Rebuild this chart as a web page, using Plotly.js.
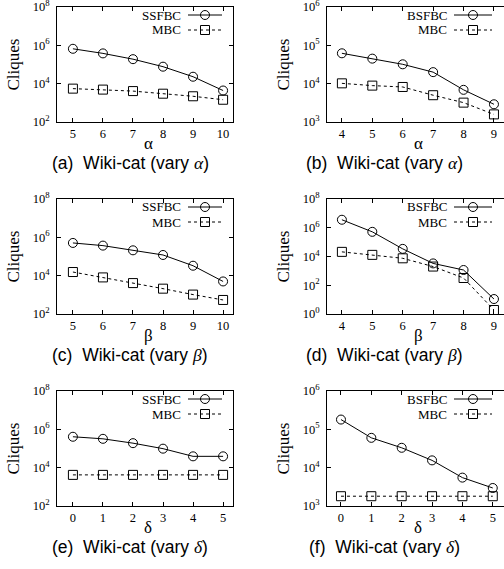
<!DOCTYPE html>
<html>
<head>
<meta charset="utf-8">
<script src="https://cdn.plot.ly/plotly-3.0.1.min.js"></script>
<style>
html, body { margin:0; padding:0; overflow:hidden; background:#fff; }
#chart { width:504px; height:569px; }
</style>
</head>
<body>
<div id="chart"></div>
<script>
// ---- data ----
const alphaA = [5, 6, 7, 8, 9, 10];
const ssfbcA = [6.6e5, 3.8e5, 1.9e5, 7.7e4, 2.3e4, 4.4e3];
const mbcA   = [5.5e3, 4.9e3, 4.1e3, 3.0e3, 2.2e3, 1.45e3];

const alphaB = [4, 5, 6, 7, 8, 9];
const bsfbcB = [6.2e4, 4.5e4, 3.2e4, 2.0e4, 6.9e3, 2.9e3];
const mbcB   = [1.02e4, 8.9e3, 8.2e3, 5.0e3, 3.2e3, 1.58e3];

const betaC  = [5, 6, 7, 8, 9, 10];
const ssfbcC = [5.1e5, 3.7e5, 2.1e5, 1.2e5, 3.3e4, 5.0e3];
const mbcC   = [1.55e4, 8.1e3, 4.1e3, 2.1e3, 1.03e3, 5.4e2];

const betaD  = [4, 5, 6, 7, 8, 9];
const bsfbcD = [3.6e6, 5.2e5, 3.4e4, 3.3e3, 1.15e3, 11];
const mbcD   = [2.1e4, 1.3e4, 7.5e3, 2.0e3, 3.2e2, 1.9];

const deltaE = [0, 1, 2, 3, 4, 5];
const ssfbcE = [4.1e5, 3.2e5, 1.9e5, 9.8e4, 3.9e4, 3.9e4];
const mbcE   = [4.2e3, 4.2e3, 4.2e3, 4.2e3, 4.2e3, 4.2e3];

const deltaF = [0, 1, 2, 3, 4, 5];
const bsfbcF = [1.8e5, 6.0e4, 3.3e4, 1.55e4, 5.5e3, 2.95e3];
const mbcF   = [1.8e3, 1.8e3, 1.8e3, 1.8e3, 1.8e3, 1.8e3];

const captions = ["(a)", "(b)", "(c)", "(d)", "(e)", "(f)"];
const xTitles  = ["α", "α", "β", "β", "δ", "δ"];
const xMath    = ["α", "α", "β", "β", "δ", "δ"];
const ourNames = ["SSFBC", "BSFBC", "SSFBC", "BSFBC", "SSFBC", "BSFBC"];
const baseName = "MBC";
const yExpA = [2, 4, 6, 8];
const yExpB = [3, 4, 5, 6];
const yExpD = [0, 2, 4, 6, 8];

// ---- geometry / styles ----
const W = 504, H = 569;
const px = x => x / W;
const py = y => 1 - y / H;
const serif = "Liberation Serif, Times New Roman, serif";
const sans = "Liberation Sans, Arial, sans-serif";

const panels = [
  {x: alphaA, s: ssfbcA, m: mbcA, xr: [4.47, 10.33], ye: yExpA, col: 0, row: 0},
  {x: alphaB, s: bsfbcB, m: mbcB, xr: [3.51, 9.33],  ye: yExpB, col: 1, row: 0},
  {x: betaC,  s: ssfbcC, m: mbcC, xr: [4.47, 10.33], ye: yExpA, col: 0, row: 1},
  {x: betaD,  s: bsfbcD, m: mbcD, xr: [3.51, 9.33],  ye: yExpD, col: 1, row: 1},
  {x: deltaE, s: ssfbcE, m: mbcE, xr: [-0.53, 5.33], ye: yExpA, col: 0, row: 2},
  {x: deltaF, s: bsfbcF, m: mbcF, xr: [-0.46, 5.37], ye: yExpB, col: 1, row: 2}
];
const colL = [57, 327], colR = [233, 504];
const rowT = [7, 199, 391], rowB = [122, 314, 506];
const capX = [130, 384];

const traces = [];
const layout = {
  width: W, height: H,
  margin: {l: 0, r: 0, t: 0, b: 0},
  paper_bgcolor: "#fff", plot_bgcolor: "#fff",
  showlegend: false,
  font: {family: serif, color: "#000", size: 12},
  annotations: [], shapes: []
};

panels.forEach((p, i) => {
  const k = i === 0 ? "" : String(i + 1);
  const L = colL[p.col], R = colR[p.col], T = rowT[p.row], B = rowB[p.row];
  const common = {
    showline: true, linecolor: "#000", linewidth: 1,
    ticks: "inside", ticklen: 4, tickcolor: "#000", tickwidth: 1,
    showgrid: false, zeroline: false, fixedrange: true,
    ticklabeloverflow: "allow",
    tickfont: {family: serif, size: 12.5, color: "#000"}
  };
  layout["xaxis" + k] = Object.assign({}, common, {
    domain: [px(L), px(R)], anchor: "y" + k, range: p.xr, mirror: "ticks",
    tickmode: "array", tickvals: p.x, ticktext: p.x.map(String)
  });
  layout["yaxis" + k] = Object.assign({}, common, {
    domain: [py(B), py(T)], anchor: "x" + k, type: "log",
    mirror: p.col === 0 ? "ticks" : false,
    range: [p.ye[0], p.ye[p.ye.length - 1]],
    tickmode: "array",
    tickvals: p.ye.map(e => Math.pow(10, e)),
    ticktext: p.ye.map(e => "10<sup>" + e + "</sup>"),
    ticklabelstandoff: 4
  });
  traces.push({
    x: p.x, y: p.s, xaxis: "x" + k, yaxis: "y" + k, name: ourNames[i],
    type: "scatter", mode: "lines+markers", cliponaxis: false,
    line: {color: "#000", width: 1},
    marker: {symbol: "circle-open", size: 9, color: "#000", line: {width: 1, color: "#000"}}
  });
  traces.push({
    x: p.x, y: p.m, xaxis: "x" + k, yaxis: "y" + k, name: baseName,
    type: "scatter", mode: "lines+markers", cliponaxis: false,
    line: {color: "#000", width: 1, dash: "3px,3px"},
    marker: {symbol: "square-open", size: 9, color: "#000", line: {width: 1, color: "#000"}}
  });

  // y title
  layout.annotations.push({
    xref: "paper", yref: "paper", x: px(L - 44), y: py((T + B) / 2),
    text: "Cliques", textangle: -90, showarrow: false,
    xanchor: "center", yanchor: "middle",
    font: {family: serif, size: 17, color: "#000"}
  });
  // x title
  const xc = p.col === 0 ? (L + R) / 2 + 3 : 418;
  layout.annotations.push({
    xref: "paper", yref: "paper", x: px(xc), y: py(B + 21),
    text: xTitles[i], showarrow: false, xanchor: "center", yanchor: "middle",
    font: {family: serif, size: 17, color: "#000"}
  });
  // caption
  layout.annotations.push({
    xref: "paper", yref: "paper", x: px(capX[p.col]), y: py(B + 41),
    text: captions[i] + "\u00a0\u00a0Wiki-cat (vary <span style='font-family:Liberation Serif'><i>" + xMath[i] + "</i></span>)",
    showarrow: false, xanchor: "center", yanchor: "middle",
    font: {family: sans, size: 17.5, color: "#000"}
  });

  // legend (text then sample on the right, like the original)
  const tR = p.col === 0 ? L + 126 : L + 122;
  const s0 = tR + 5, s1 = tR + (p.col === 0 ? 39 : 43), sm = (s0 + s1) / 2;
  [[ourNames[i], T + 8, "solid", "circle"], [baseName, T + 23, "dash", "rect"]].forEach(([nm, yy, ds, shp]) => {
    layout.annotations.push({
      xref: "paper", yref: "paper", x: px(tR), y: py(yy),
      text: nm, showarrow: false, xanchor: "right", yanchor: "middle",
      font: {family: serif, size: 13, color: "#000"}
    });
    layout.shapes.push({
      type: "line", xref: "paper", yref: "paper",
      x0: px(s0), x1: px(s1), y0: py(yy), y1: py(yy),
      line: {color: "#000", width: 1, dash: ds === "solid" ? "solid" : "3px,3px"}
    });
    layout.shapes.push({
      type: shp, xref: "paper", yref: "paper",
      x0: px(sm - 4.5), x1: px(sm + 4.5), y0: py(yy + 4.5), y1: py(yy - 4.5),
      line: {color: "#000", width: 1}, fillcolor: "rgba(0,0,0,0)"
    });
  });
});

Plotly.newPlot("chart", traces, layout, {staticPlot: true, displayModeBar: false});
</script>
</body>
</html>
